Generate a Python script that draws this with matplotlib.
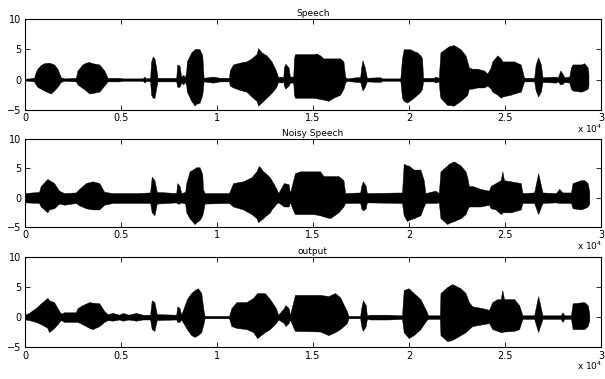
import matplotlib
matplotlib.use("Agg")
import matplotlib.pyplot as plt

plt.rcParams['font.family'] = ['DejaVu Sans']

# envelope of each waveform (sample index, upper, lower)
speech_x = [0, 209, 470, 558, 645, 819, 993, 1255, 1342, 1516, 1690, 1865, 2039, 2649, 2736, 2997,
            3171, 3346, 3520, 3868, 4130, 4304, 4914, 5088, 6133, 6220, 6308, 6517, 6570, 6656, 6743,
            6831, 6900, 7876, 7930, 8050, 8137, 8250, 8330, 8399, 8434, 8660, 8834, 8922, 9096, 9235,
            9305, 9792, 10141, 10629, 10664, 10838, 11187, 11535, 11797, 12058, 12145, 12319, 12581,
            12842, 13069, 13190, 13365, 13452, 13487, 13560, 13731, 13800, 13974, 14009, 14062, 14323,
            15020, 15194, 15369, 15543, 15804, 16065, 16414, 16588, 16675, 16763, 17285, 17459, 17512,
            17580, 17700, 17808, 18505, 18600, 19550, 19638, 19725, 19899, 20073, 20247, 20422, 20596,
            20683, 20735, 21300, 21380, 21554, 21607, 21641, 21990, 22077, 22338, 22687, 22948, 23036,
            23123, 23297, 23559, 23907, 24081, 24255, 24342, 24604, 24778, 24865, 25301, 25475, 25823,
            25997, 26520, 26600, 26729, 26870, 26956, 27653, 27750, 27880, 28000, 28089, 28350, 28437,
            28524, 28960, 29134, 29308, 29350]
speech_hi = [0.15, 0.2, 0.3, 1.2, 1.8, 2.4, 2.7, 2.8, 2.7, 2.5, 1.8, 0.4, 0.2, 0.3, 1.5, 2.5,
             2.8, 2.9, 2.7, 2.5, 1.5, 0.3, 0.3, 0.2, 0.2, 0.5, 0.2, 0.3, 3.0, 3.8, 3.5,
             2.0, 0.3, 0.3, 2.5, 2.3, 0.5, 0.8, 0.3, 1.5, 3.0, 4.5, 5.0, 5.1, 5.0, 4.0,
             0.3, 0.5, 0.3, 0.3, 1.5, 2.5, 2.8, 3.0, 3.5, 4.2, 5.2, 4.5, 4.0,
             3.0, 1.5, 0.4, 0.5, 0.3, 2.0, 2.6, 2.0, 0.5, 0.5, 3.5, 4.2, 4.2,
             4.2, 4.3, 4.0, 3.5, 3.5, 3.5, 3.5, 3.0, 0.5, 0.2, 0.4, 0.4, 2.0,
             3.2, 2.0, 0.3, 0.4, 0.2, 0.2, 3.5, 5.0, 5.0, 5.0, 4.7, 4.5, 4.0,
             3.5, 0.3, 0.3, 0.5, 0.3, 3.0, 4.5, 5.3, 5.5, 5.7, 5.0, 4.0, 3.0,
             2.0, 1.8, 1.8, 1.5, 1.0, 2.0, 3.0, 4.0, 3.5, 3.0, 3.0, 3.0, 2.5,
             0.3, 0.3, 2.5, 3.7, 2.5, 0.4, 0.5, 0.3, 1.5, 1.0, 0.4, 0.5, 2.0,
             2.5, 2.5, 2.7, 2.0, 1.0]
speech_lo = [-0.15, -0.2, -0.3, -0.8, -1.2, -1.5, -1.8, -2.2, -2.3, -1.8, -1.2, -0.4, -0.2, -0.3, -0.8, -1.4,
             -1.8, -2.3, -2.2, -2.0, -1.0, -0.3, -0.3, -0.2, -0.2, -0.5, -0.2, -0.3, -2.5, -3.0, -3.0,
             -1.5, -0.3, -0.3, -1.2, -1.2, -0.5, -0.8, -0.3, -1.0, -2.0, -3.5, -4.3, -4.0, -3.8, -2.5,
             -0.3, -0.5, -0.3, -0.3, -1.0, -1.3, -1.7, -2.0, -2.8, -3.5, -4.3, -3.8, -3.0,
             -2.2, -1.3, -0.4, -0.5, -0.3, -1.0, -1.5, -1.0, -0.5, -0.5, -2.5, -3.0, -3.0,
             -3.0, -3.1, -3.2, -3.3, -3.5, -3.0, -2.5, -1.5, -0.5, -0.2, -0.4, -0.4, -1.0,
             -1.8, -1.2, -0.3, -0.4, -0.2, -0.2, -3.0, -3.5, -3.8, -3.4, -3.0, -2.5, -2.0,
             -1.5, -0.3, -0.3, -0.5, -0.3, -2.5, -3.0, -4.2, -4.2, -4.3, -3.5, -2.8, -2.5,
             -1.5, -1.5, -1.3, -1.3, -1.0, -1.5, -2.0, -2.5, -3.0, -2.8, -2.5, -2.3, -2.0,
             -0.3, -0.3, -1.8, -2.8, -2.0, -0.4, -0.5, -0.3, -0.8, -0.7, -0.4, -0.5, -1.5,
             -1.8, -2.0, -1.8, -1.5, -1.0]

noisy_x = [0, 732, 819, 1167, 1255, 1516, 1777, 2039, 2649, 2823, 3171, 3520, 3868, 4130, 4565,
           5785, 6517, 6600, 6743, 6865, 7876, 7930, 8050, 8137, 8346, 8399, 8573, 8834, 8922,
           9096, 9235, 9270, 9357, 10629, 10838, 11361, 11797, 12058, 12145, 12197, 12406, 12494,
           12755, 12842, 13103, 13190, 13487, 13731, 13800, 14009, 14062, 14323, 15020, 15369,
           15543, 15891, 16327, 16588, 16675, 17459, 17512, 17600, 17750, 17808, 19638, 19725,
           19899, 19986, 20247, 20596, 20770, 20857, 21380, 21554, 21641, 21990, 22077, 22338,
           22687, 22948, 23036, 23123, 23297, 23733, 24168, 24255, 24516, 24778, 24865, 24950,
           25301, 25823, 25910, 26520, 26729, 26956, 27653, 27827, 28000, 28437, 28524, 28960,
           29134, 29308, 29395]
noisy_hi = [0.8, 1.0, 2.0, 3.2, 3.0, 2.5, 1.2, 0.8, 0.9, 1.5, 2.5, 2.8, 2.5, 1.0, 0.8,
            0.8, 0.9, 3.6, 3.0, 1.0, 0.8, 2.5, 2.0, 0.8, 1.0, 2.5, 4.5, 5.0, 5.2,
            5.2, 4.0, 1.5, 0.8, 0.8, 2.5, 2.8, 3.5, 4.5, 5.2, 5.4, 4.5, 4.3,
            3.5, 3.0, 1.5, 0.8, 2.5, 2.3, 0.8, 3.5, 4.2, 4.5, 4.5, 4.5,
            3.7, 3.7, 3.7, 3.0, 0.8, 0.9, 2.0, 2.8, 2.0, 0.8, 0.9, 5.8,
            5.5, 5.5, 4.8, 4.8, 3.0, 0.8, 1.2, 0.8, 4.5, 5.5, 5.8, 6.2,
            5.5, 4.5, 3.5, 2.0, 2.0, 1.5, 1.2, 2.0, 2.5, 3.0, 4.5, 3.0,
            2.8, 2.5, 0.8, 0.9, 4.2, 0.9, 0.8, 1.5, 0.9, 0.9, 2.5, 3.0,
            3.0, 2.5, 1.0]
noisy_lo = [-0.8, -0.9, -1.5, -2.5, -2.0, -1.8, -1.0, -1.2, -0.9, -1.3, -1.8, -2.0, -2.0, -1.2, -0.9,
            -0.9, -0.9, -2.5, -3.0, -1.0, -0.8, -1.0, -1.0, -0.8, -1.0, -2.5, -3.5, -4.5, -4.2,
            -3.8, -3.0, -2.5, -1.0, -0.9, -1.5, -2.0, -2.8, -3.5, -4.2, -4.0, -3.5, -3.2,
            -2.5, -2.0, -1.0, -0.8, -1.5, -1.5, -0.8, -2.5, -2.8, -2.8, -2.8, -3.0,
            -3.2, -3.5, -2.5, -1.5, -0.9, -0.9, -1.8, -2.2, -1.8, -0.8, -0.9, -3.0,
            -4.0, -3.8, -3.5, -3.0, -1.5, -0.9, -0.9, -0.8, -3.5, -4.5, -4.3, -4.0,
            -3.5, -2.8, -2.0, -1.5, -1.5, -1.5, -1.2, -1.8, -2.0, -2.8, -2.5, -2.5,
            -2.5, -2.0, -0.9, -0.9, -2.8, -0.9, -0.8, -0.9, -0.9, -0.9, -1.8, -2.0,
            -1.8, -1.5, -1.0]

output_x = [0, 209, 558, 906, 1167, 1255, 1516, 1690, 1865, 2039, 2649, 2736, 2997, 3346, 3520,
            3868, 4130, 4304, 4565, 4914, 5088, 5400, 5785, 6133, 6517, 6600, 6743, 6865, 7876,
            7930, 8050, 8137, 8434, 8660, 8834, 9009, 9183, 9305, 9357, 10629, 10751, 11012, 11535,
            11884, 12093, 12494, 12755, 13069, 13190, 13487, 13560, 13731, 13800, 14009, 14062,
            15369, 15804, 16153, 16414, 16763, 16850, 17459, 17512, 17600, 17750, 17808, 17982,
            18941, 19638, 19725, 19986, 20247, 20596, 20910, 21000, 21607, 21641, 21990, 22251,
            22687, 22948, 23123, 23297, 23820, 24168, 24342, 24604, 24778, 24865, 24950, 25475,
            25736, 25910, 26520, 26729, 26956, 27900, 28002, 28089, 28437, 28524, 29134, 29308, 29395]
output_hi = [0.4, 0.7, 1.5, 2.5, 3.2, 2.8, 2.5, 1.5, 0.6, 0.8, 0.8, 1.5, 2.0, 2.5, 2.4,
             2.3, 1.0, 0.5, 0.7, 0.4, 0.7, 0.4, 0.7, 0.4, 0.4, 2.8, 2.5, 0.5, 0.4,
             1.8, 1.5, 0.4, 3.0, 4.0, 4.5, 4.8, 4.0, 1.0, 0.2, 0.2, 1.5, 2.5, 2.5,
             3.2, 4.0, 4.0, 3.0, 1.5, 0.4, 1.5, 2.0, 1.5, 0.4, 3.0, 3.7,
             3.7, 3.5, 4.0, 3.3, 1.0, 0.2, 0.2, 1.5, 2.8, 2.0, 0.3, 0.4,
             0.4, 0.3, 4.5, 4.8, 4.0, 3.0, 1.0, 0.3, 0.3, 4.0, 5.0, 5.5,
             4.8, 4.0, 2.5, 1.8, 1.5, 1.2, 2.5, 3.0, 3.0, 4.5, 3.0, 3.0,
             2.0, 0.3, 0.3, 3.5, 0.3, 0.3, 0.8, 0.3, 0.3, 2.3, 2.5, 2.0, 0.5]
output_lo = [-0.4, -0.5, -0.8, -1.3, -1.8, -2.5, -1.8, -1.2, -0.5, -0.8, -0.8, -0.8, -1.2, -1.8, -2.0,
             -1.5, -0.8, -0.5, -0.6, -0.4, -0.6, -0.4, -0.6, -0.4, -0.4, -2.0, -2.3, -0.5, -0.4,
             -0.8, -0.8, -0.4, -2.0, -3.0, -3.3, -3.0, -2.5, -1.0, -0.2, -0.2, -1.5, -1.8, -2.0,
             -2.5, -3.5, -2.5, -2.0, -1.0, -0.4, -1.0, -1.5, -1.0, -0.4, -2.0, -2.3,
             -2.4, -3.0, -2.5, -2.0, -1.0, -0.2, -0.2, -1.5, -2.3, -1.5, -0.3, -0.4,
             -0.4, -0.3, -2.5, -3.5, -3.0, -2.0, -0.5, -0.3, -0.3, -3.0, -4.0, -3.8,
             -3.0, -2.5, -2.0, -1.5, -1.2, -1.0, -2.0, -2.3, -2.5, -2.5, -2.4, -2.3,
             -2.0, -0.3, -0.3, -2.5, -0.3, -0.3, -0.8, -0.3, -0.3, -2.0, -2.0, -1.5, -0.5]

titles = ['Speech', 'Noisy Speech', 'output']
x_ticks = [0, 5000, 10000, 15000, 20000, 25000, 30000]
x_labels = ['0', '0.5', '1', '1.5', '2', '2.5', '3']
y_ticks = [-5, 0, 5, 10]
y_labels = ['\u22125', '0', '5', '10']

fig = plt.figure(figsize=(6.05, 3.79), dpi=100)
rects = [[0.0413, 0.710, 0.952, 0.240],
         [0.0413, 0.401, 0.952, 0.232],
         [0.0413, 0.084, 0.952, 0.238]]
panels = [(speech_x, speech_hi, speech_lo),
          (noisy_x, noisy_hi, noisy_lo),
          (output_x, output_hi, output_lo)]

for rect, (xs, hi, lo), title in zip(rects, panels, titles):
    ax = fig.add_axes(rect)
    ax.fill_between(xs, lo, hi, color='black', linewidth=0.3)
    ax.set_xlim(0, 30000)
    ax.set_ylim(-5, 10)
    ax.set_xticks(x_ticks)
    ax.set_xticklabels(x_labels)
    ax.set_yticks(y_ticks)
    ax.set_yticklabels(y_labels)
    ax.tick_params(direction='in', top=True, right=True, labelsize=7, length=3.5, width=0.6, pad=2.5)
    for s in ax.spines.values():
        s.set_linewidth(0.8)
    ax.set_title(title, fontsize=6.5, pad=2)
    # offset label like matlab, under the last tick label
    ax.text(1.003, -0.21, 'x 10$^4$', transform=ax.transAxes, ha='right', va='center', fontsize=6.5)

fig.savefig('out.png', dpi=100)
